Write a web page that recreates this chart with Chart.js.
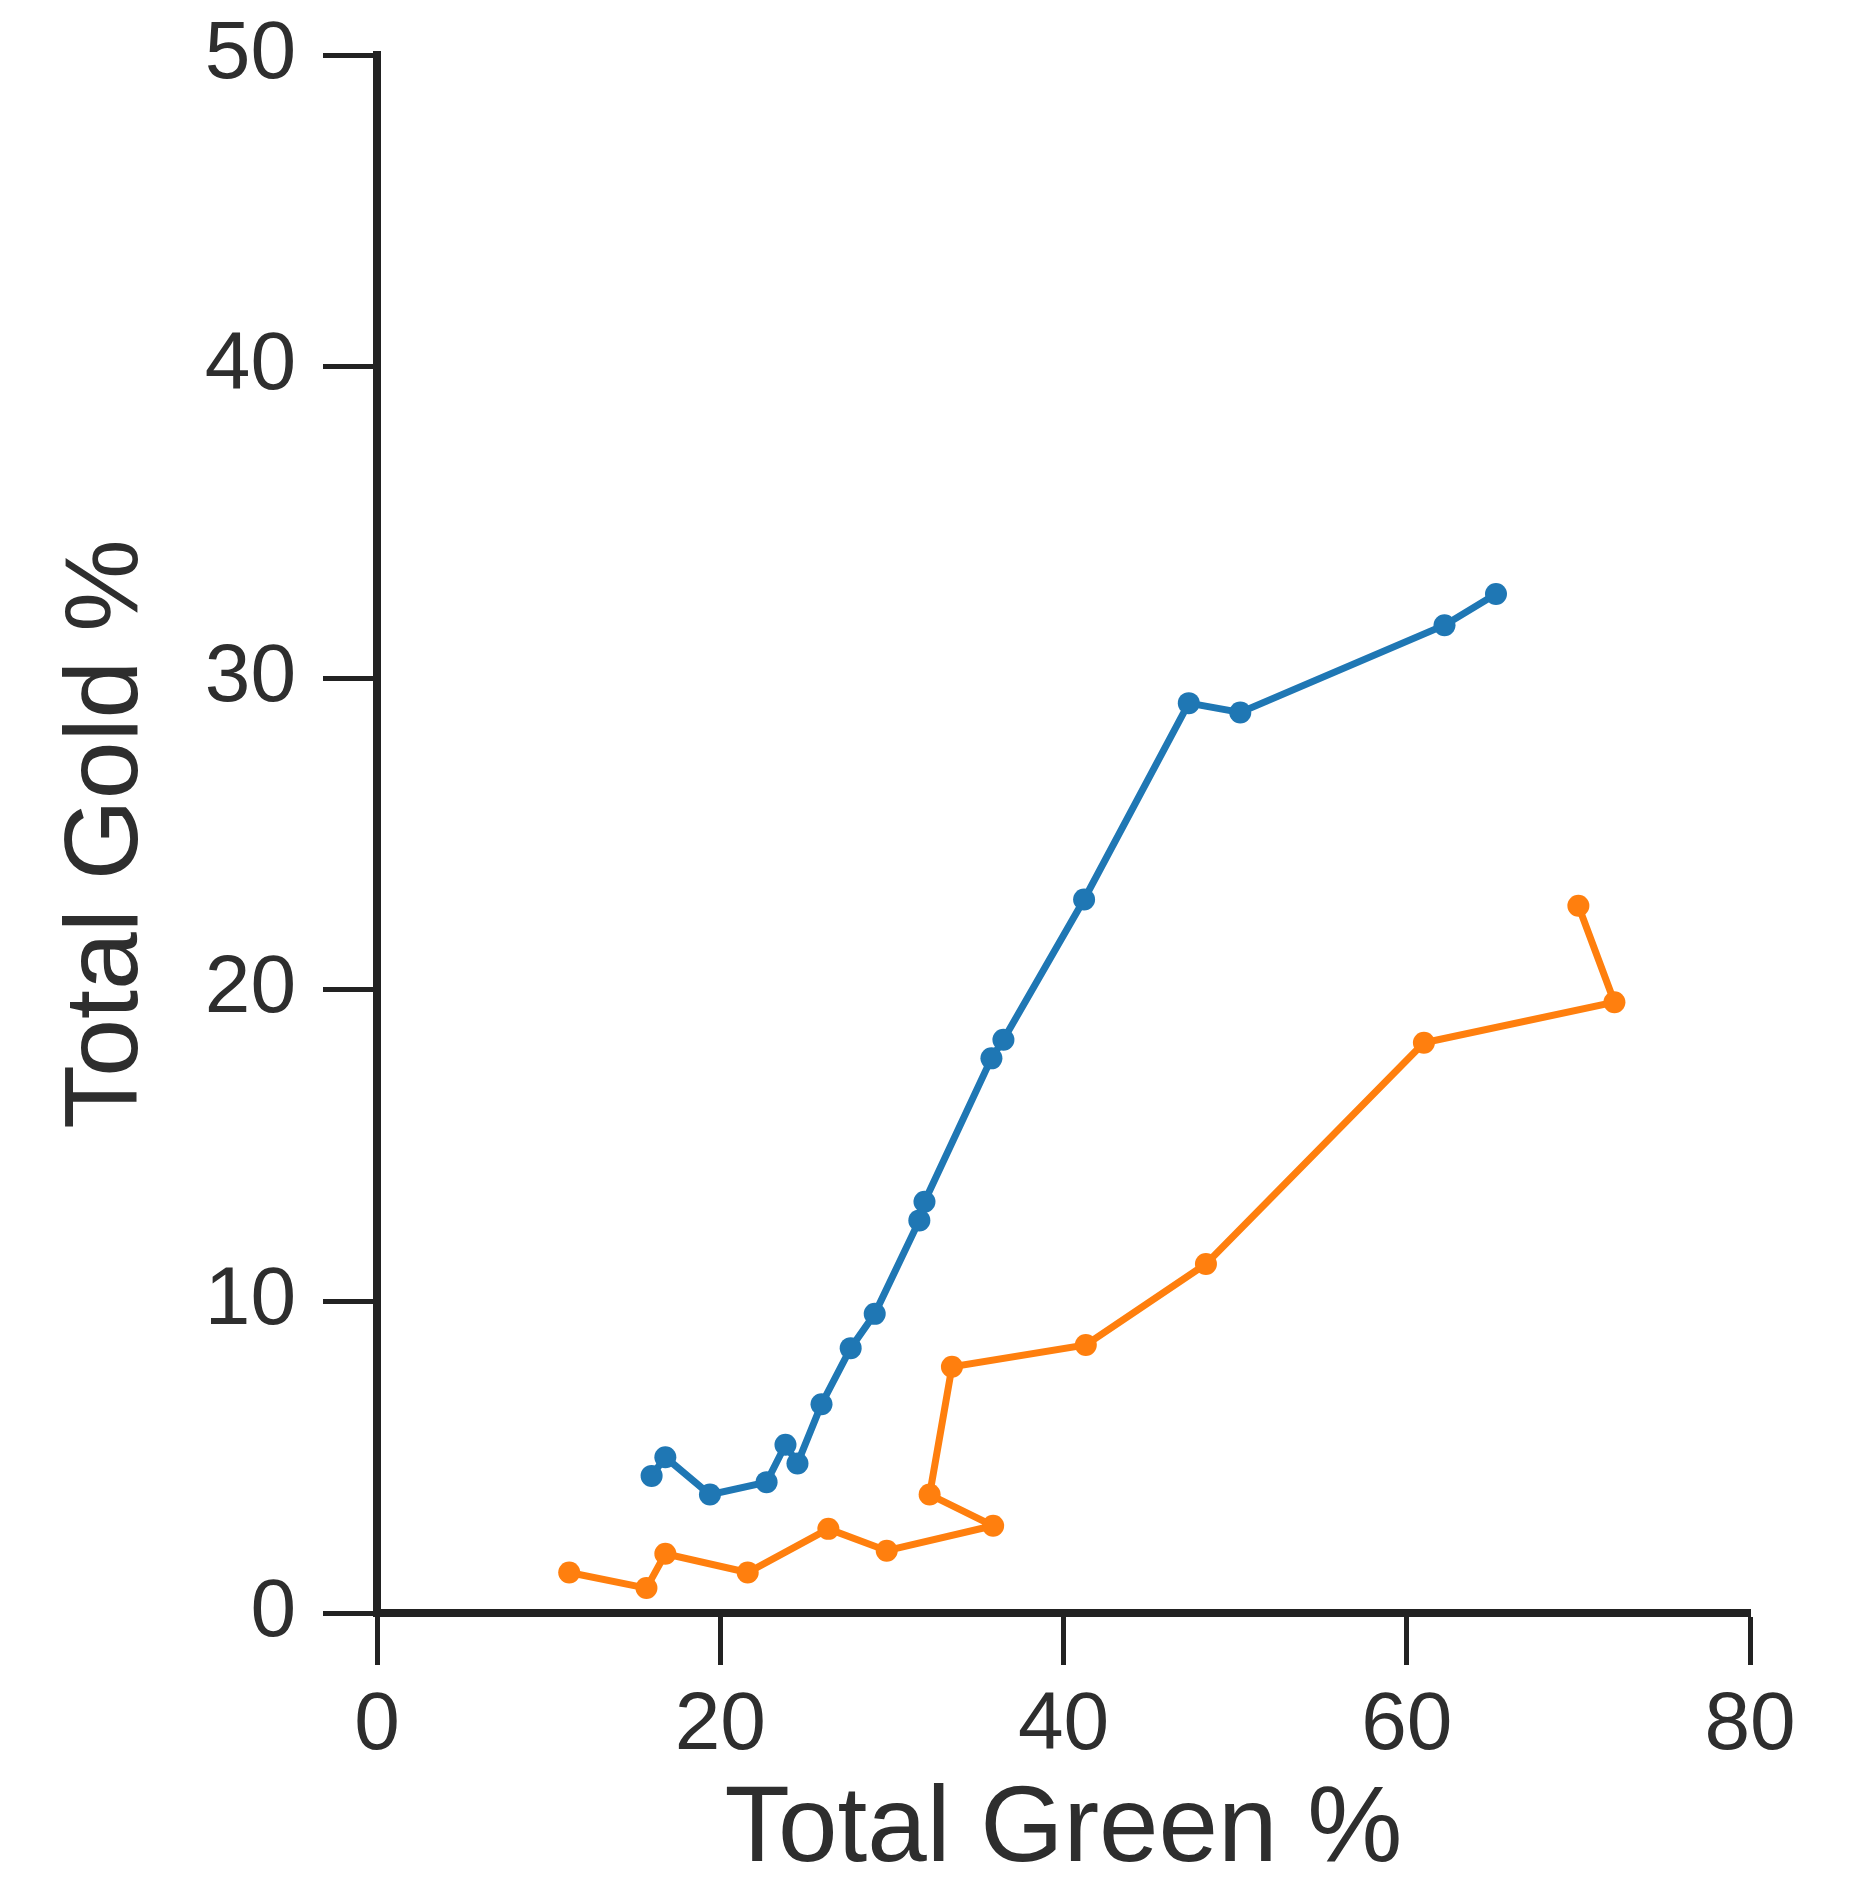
<!DOCTYPE html>
<html>
<head>
<meta charset="utf-8">
<title>Total Gold vs Total Green</title>
<script src="https://cdn.jsdelivr.net/npm/chart.js@4"></script>
<style>
  html, body { margin: 0; padding: 0; background: #fff; }
  #chart { display: block; }
</style>
</head>
<body>
<canvas id="chart" width="1860" height="1896"></canvas>
<script>
// Values
const blueGreen = [16.0, 16.8, 19.4, 22.7, 23.8, 24.5, 25.9, 27.6, 29.0, 31.6, 31.9, 35.8, 36.5, 41.2, 47.3, 50.3, 62.2, 65.2];
const blueGold  = [4.4, 5.0, 3.8, 4.2, 5.4, 4.8, 6.7, 8.5, 9.6, 12.6, 13.2, 17.8, 18.4, 22.9, 29.2, 28.9, 31.7, 32.7];

const orangeGreen = [11.2, 15.7, 16.8, 21.6, 26.3, 29.7, 35.9, 32.2, 33.5, 41.3, 48.3, 61.0, 72.1, 70.0];
const orangeGold  = [1.3, 0.8, 1.9, 1.3, 2.7, 2.0, 2.8, 3.8, 7.9, 8.6, 11.2, 18.3, 19.6, 22.7];

const xTicks = [0, 20, 40, 60, 80];
const yTicks = [0, 10, 20, 30, 40, 50];

const toPoints = (xs, ys) => xs.map((x, i) => ({ x: x, y: ys[i] }));

const axisColor = "#222222";
const textColor = "#2e2e2e";
const fontFamily = "'Liberation Sans', Arial, sans-serif";

const ctx = document.getElementById("chart").getContext("2d");
new Chart(ctx, {
  type: "scatter",
  data: {
    datasets: [
      {
        label: "Blue",
        data: toPoints(blueGreen, blueGold),
        showLine: true,
        borderColor: "#1f77b4",
        backgroundColor: "#1f77b4",
        borderWidth: 7,
        pointRadius: 11,
        pointBorderWidth: 0,
      },
      {
        label: "Orange",
        data: toPoints(orangeGreen, orangeGold),
        showLine: true,
        borderColor: "#ff7f0e",
        backgroundColor: "#ff7f0e",
        borderWidth: 7,
        pointRadius: 11,
        pointBorderWidth: 0,
      },
    ],
  },
  options: {
    responsive: false,
    animation: false,
    layout: { padding: { top: 55, right: 110, left: 0, bottom: 0 } },
    plugins: {
      legend: { display: false },
      tooltip: { enabled: false },
    },
    scales: {
      x: {
        type: "linear",
        min: 0,
        max: 80,
        afterBuildTicks: (scale) => { scale.ticks = xTicks.map((v) => ({ value: v })); },
        afterFit: (scale) => { scale.height = 283; },
        border: { display: true, width: 8, color: axisColor },
        grid: {
          drawOnChartArea: false,
          drawTicks: true,
          tickLength: 52,
          tickWidth: 5,
          tickColor: axisColor,
        },
        ticks: {
          padding: 12,
          color: textColor,
          font: { family: fontFamily, size: 82 },
        },
        title: {
          display: true,
          text: "Total Green %",
          color: textColor,
          padding: { top: 0, bottom: 0 },
          font: { family: fontFamily, size: 107 },
        },
      },
      y: {
        type: "linear",
        min: 0,
        max: 50,
        afterBuildTicks: (scale) => { scale.ticks = yTicks.map((v) => ({ value: v })); },
        afterFit: (scale) => {
          scale.width = 377;
          scale.paddingTop = 0;
          scale.paddingBottom = 0;
        },
        border: { display: true, width: 8, color: axisColor },
        grid: {
          drawOnChartArea: false,
          drawTicks: true,
          tickLength: 54,
          tickWidth: 5,
          tickColor: axisColor,
        },
        ticks: {
          padding: 27,
          color: textColor,
          font: { family: fontFamily, size: 82 },
        },
        title: {
          display: true,
          text: "Total Gold %",
          color: textColor,
          padding: { top: 46, bottom: 0 },
          font: { family: fontFamily, size: 104 },
        },
      },
    },
  },
});
</script>
</body>
</html>
